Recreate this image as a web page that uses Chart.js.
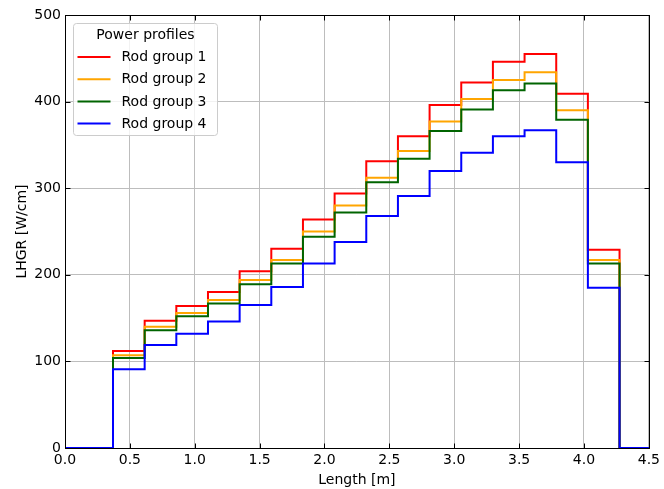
<!DOCTYPE html>
<html>
<head>
<meta charset="utf-8">
<script src="https://cdn.jsdelivr.net/npm/chart.js@4.4.0/dist/chart.umd.min.js"></script>
<style>
  html, body { margin: 0; padding: 0; background: #fff; }
  canvas { display: block; }
</style>
</head>
<body>
<canvas id="profile-chart" width="664" height="489"></canvas>
<script>
// Start of each axial segment [m]; every group holds its value until the next edge
const segmentStarts = [0.37, 0.614, 0.858, 1.102, 1.346, 1.59, 1.834, 2.078, 2.322, 2.566, 2.81, 3.054, 3.298, 3.542, 3.786, 4.03];
const rodEnd = 4.274;
const axisEnd = 4.5;

const groupNames = ['Rod group 1', 'Rod group 2', 'Rod group 3', 'Rod group 4'];
const group1 = [112, 147, 164, 180, 204, 230, 264, 294, 331, 360, 396, 422, 446, 455, 409, 229];
const group2 = [107, 140, 156, 171, 194, 217, 250, 280, 312, 343, 377, 403, 425, 434, 390, 217];
const group3 = [104, 136, 152, 167, 189, 213, 244, 272, 307, 334, 366, 391, 413, 421, 379, 213];
const group4 = [91, 119, 132, 146, 165, 186, 213, 238, 268, 291, 320, 341, 360, 367, 330, 185];
const groupColors = ['#ff0000', '#ffa500', '#006400', '#0000ff'];

const FONT = 'DejaVu Sans';
Chart.defaults.font.family = FONT;
Chart.defaults.font.size = 14;
Chart.defaults.color = '#000';

// turn a list of segment values into step points (zero before and after the rod)
function toSteps(values) {
    const pts = [{ x: 0, y: 0 }];
    values.forEach((v, i) => pts.push({ x: segmentStarts[i], y: v }));
    pts.push({ x: rodEnd, y: 0 });
    pts.push({ x: axisEnd, y: 0 });
    return pts;
}

const allGroups = [group1, group2, group3, group4];
const datasets = allGroups.map((vals, i) => ({
    label: groupNames[i],
    data: toSteps(vals),
    borderColor: groupColors[i],
    backgroundColor: groupColors[i],
    borderWidth: 2,
    pointRadius: 0,
    stepped: 'before',
    fill: false,
    clip: false,
    order: allGroups.length - i   // later groups drawn on top
}));

// frame, inward ticks on all four sides
const frameAndTicks = {
    id: 'frameAndTicks',
    afterDatasetsDraw(chart) {
        const { ctx, chartArea: a, scales } = chart;
        const L = Math.round(a.left) + 0.5, R = Math.round(a.right) + 0.5;
        const T = Math.round(a.top) + 0.5, B = Math.round(a.bottom) + 0.5;
        ctx.save();
        ctx.strokeStyle = '#000';
        ctx.lineWidth = 1;
        ctx.strokeRect(L, T, R - L, B - T);
        const len = 5;
        ctx.beginPath();
        scales.x.ticks.forEach(t => {
            const px = Math.round(scales.x.getPixelForValue(t.value)) + 0.5;
            ctx.moveTo(px, B); ctx.lineTo(px, B - len);
            ctx.moveTo(px, T); ctx.lineTo(px, T + len);
        });
        scales.y.ticks.forEach(t => {
            const py = Math.round(scales.y.getPixelForValue(t.value)) + 0.5;
            ctx.moveTo(L, py); ctx.lineTo(L + len, py);
            ctx.moveTo(R, py); ctx.lineTo(R - len, py);
        });
        ctx.stroke();
        ctx.restore();
    }
};

// matplotlib-style legend box inside the plot, upper left
const insideLegend = {
    id: 'insideLegend',
    afterDraw(chart) {
        const { ctx, chartArea: a } = chart;
        const x0 = Math.round(a.left + 7.5) + 0.5;
        const y0 = Math.round(a.top + 8) + 0.5;
        const w = 144, h = 112;
        ctx.save();
        ctx.beginPath();
        ctx.roundRect(x0, y0, w, h, 3);
        ctx.fillStyle = 'rgba(255,255,255,0.8)';
        ctx.fill();
        ctx.strokeStyle = '#cccccc';
        ctx.lineWidth = 1;
        ctx.stroke();

        ctx.font = '14px "' + FONT + '"';
        ctx.fillStyle = '#000';
        ctx.textBaseline = 'middle';
        ctx.textAlign = 'center';
        ctx.fillText('Power profiles', x0 + w / 2, y0 + 12);

        ctx.textAlign = 'left';
        chart.data.datasets.forEach((ds, i) => {
            const y = y0 + 33.5 + i * 22.2;
            ctx.strokeStyle = ds.borderColor;
            ctx.lineWidth = 2;
            ctx.beginPath();
            ctx.moveTo(x0 + 4, y);
            ctx.lineTo(x0 + 37, y);
            ctx.stroke();
            ctx.fillText(ds.label, x0 + 48, y + 0.5);
        });
        ctx.restore();
    }
};

const ctx = document.getElementById('profile-chart').getContext('2d');
new Chart(ctx, {
    type: 'line',
    data: { datasets: datasets },
    options: {
        responsive: false,
        animation: false,
        devicePixelRatio: 1,
        layout: { padding: { top: 15, right: 14, left: 0, bottom: 0 } },
        plugins: {
            legend: { display: false },
            tooltip: { enabled: false }
        },
        scales: {
            x: {
                type: 'linear',
                min: 0,
                max: 4.5,
                ticks: {
                    stepSize: 0.5,
                    padding: 4,
                    maxRotation: 0,
                    callback: v => v.toFixed(1)
                },
                grid: { color: '#bdbdbd', lineWidth: 1, drawTicks: false },
                border: { display: false },
                title: { display: true, text: 'Length [m]', padding: { top: 0, bottom: 0 } },
                afterFit: s => { s.height = 41; }
            },
            y: {
                type: 'linear',
                min: 0,
                max: 500,
                ticks: { stepSize: 100, padding: 4 },
                grid: { color: '#bdbdbd', lineWidth: 1, drawTicks: false },
                border: { display: false },
                title: { display: true, text: 'LHGR [W/cm]', padding: { top: 14, bottom: 0 } },
                afterFit: s => { s.width = 65; }
            }
        }
    },
    plugins: [frameAndTicks, insideLegend]
});
</script>
</body>
</html>
